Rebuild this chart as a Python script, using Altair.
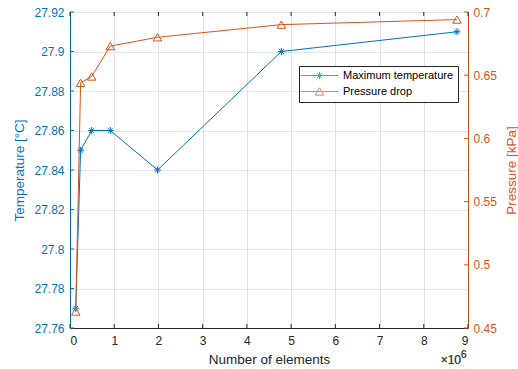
import altair as alt
import pandas as pd

# ---- data ----
elements = [130000, 240000, 490000, 910000, 1980000, 4780000, 8750000]
max_temp = [27.77, 27.85, 27.86, 27.86, 27.84, 27.90, 27.91]
pressure = [0.463, 0.644, 0.649, 0.673, 0.680, 0.690, 0.694]
series = ["Maximum temperature", "Pressure drop"]
x_ticks = [0, 1000000, 2000000, 3000000, 4000000, 5000000, 6000000, 7000000, 8000000, 9000000]
temp_ticks = [27.76, 27.78, 27.80, 27.82, 27.84, 27.86, 27.88, 27.90, 27.92]
press_ticks = [0.45, 0.50, 0.55, 0.60, 0.65, 0.70]

BLUE = "#0072BD"
ORANGE = "#D95319"
DARK = "#262626"
FONT = "Liberation Sans"
W, H = 398, 316

temp_df = pd.DataFrame({"elements": elements, "temp": max_temp})
press_df = pd.DataFrame({"elements": elements, "press": pressure})
xt_df = pd.DataFrame({"elements": x_ticks})
tt_df = pd.DataFrame({"temp": temp_ticks})
pt_df = pd.DataFrame({"press": press_ticks})
leg_df = pd.DataFrame({"series": series})

ASTER = "M-1,0L1,0M0,-1L0,1M-0.7,-0.7L0.7,0.7M-0.7,0.7L0.7,-0.7"
LEG_ASTER = "M-5.34,0L5.34,0" + ASTER
LEG_TRI = "M-5.34,0L5.34,0M0,-1.05L-1.21,1.05L1.21,1.05Z"

x_scale = alt.Scale(domain=[0, 9000000], nice=False, zero=False)
t_scale = alt.Scale(domain=[27.76, 27.92], nice=False, zero=False)
p_scale = alt.Scale(domain=[0.45, 0.70], nice=False, zero=False)

x_axis = alt.Axis(
    values=x_ticks, tickCount=20, labelExpr="format(datum.value/1000000, '~g')",
    title="Number of elements", grid=True, gridColor="#e2e2e2",
    ticks=False, domainColor=DARK, labelColor=DARK, titleColor=DARK,
    labelFontSize=12, titleFontSize=13.5, titleFontWeight="normal",
    labelPadding=7, titlePadding=6, labelFont=FONT, titleFont=FONT,
    labelOverlap=False,
)
t_axis = alt.Axis(
    orient="left", values=temp_ticks, tickCount=20, format="~g", title="Temperature [°C]",
    grid=True, gridColor="#dde8f2", ticks=False, domainColor=BLUE,
    labelColor=BLUE, titleColor=BLUE, labelFontSize=12, titleFontSize=13.5,
    titleFontWeight="normal", labelPadding=6, titlePadding=7,
    labelFont=FONT, titleFont=FONT, labelOverlap=False,
)
p_axis = alt.Axis(
    orient="right", values=press_ticks, tickCount=20, format="~g", title="Pressure [kPa]",
    grid=False, ticks=False, domainColor=ORANGE, labelColor=ORANGE,
    titleColor=ORANGE, labelFontSize=12, titleFontSize=13.5,
    titleFontWeight="normal", labelPadding=5, titlePadding=8, titleAngle=270,
    titleBaseline="top", labelFont=FONT, titleFont=FONT, labelOverlap=False,
)

x_enc = alt.X("elements:Q", scale=x_scale, axis=x_axis)

temp_line = alt.Chart(temp_df).mark_line(color=BLUE, strokeWidth=1).encode(
    x=x_enc, y=alt.Y("temp:Q", scale=t_scale, axis=t_axis)
)
temp_pts = alt.Chart(temp_df).mark_point(
    shape=ASTER, size=49, filled=False, color=BLUE, strokeWidth=1, opacity=1
).encode(x=alt.X("elements:Q", scale=x_scale), y=alt.Y("temp:Q", scale=t_scale))
temp_tk = alt.Chart(tt_df).mark_rule(color=BLUE, strokeWidth=1).encode(
    y=alt.Y("temp:Q", scale=t_scale), x=alt.value(0), x2=alt.value(4)
)

press_line = alt.Chart(press_df).mark_line(color=ORANGE, strokeWidth=1).encode(
    x=alt.X("elements:Q", scale=x_scale), y=alt.Y("press:Q", scale=p_scale, axis=p_axis)
)
press_pts = alt.Chart(press_df).mark_point(
    shape="triangle-up", size=72, filled=False, color=ORANGE, strokeWidth=1, opacity=1
).encode(x=alt.X("elements:Q", scale=x_scale), y=alt.Y("press:Q", scale=p_scale))
press_tk = alt.Chart(pt_df).mark_rule(color=ORANGE, strokeWidth=1).encode(
    y=alt.Y("press:Q", scale=p_scale), x=alt.value(W), x2=alt.value(W - 4)
)

xtick_bot = alt.Chart(xt_df).mark_rule(color=DARK, strokeWidth=1).encode(
    x=alt.X("elements:Q", scale=x_scale), y=alt.value(H), y2=alt.value(H - 4)
)
xtick_top = alt.Chart(xt_df).mark_rule(color=DARK, strokeWidth=1).encode(
    x=alt.X("elements:Q", scale=x_scale), y=alt.value(0), y2=alt.value(4)
)

leg = alt.Legend(
    orient="none", legendX=229, legendY=54, title=None, padding=4,
    strokeColor=DARK, fillColor="white", cornerRadius=0,
    labelFontSize=11, labelColor="black", labelFont=FONT,
    symbolOffset=11, labelOffset=18, rowPadding=4,
    symbolStrokeWidth=1, symbolSize=49,
)
legend_layer = alt.Chart(leg_df).mark_point(filled=False, clip=True, size=49, strokeWidth=1).encode(
    x=alt.value(-100), y=alt.value(-100),
    color=alt.Color("series:N", scale=alt.Scale(domain=series, range=[BLUE, ORANGE]), legend=leg),
    shape=alt.Shape("series:N", scale=alt.Scale(domain=series, range=[LEG_ASTER, LEG_TRI]), legend=leg),
)

exp1 = alt.Chart(leg_df).mark_text(
    text="×10", align="right", baseline="middle", fontSize=12, color="#404040", font=FONT
).encode(x=alt.value(391), y=alt.value(348))
exp2 = alt.Chart(leg_df).mark_text(
    text="6", align="left", baseline="middle", fontSize=10, color="#404040", font=FONT
).encode(x=alt.value(391), y=alt.value(343))

temp_layer = alt.layer(temp_line, temp_tk, temp_pts)
press_layer = alt.layer(press_line, press_tk, press_pts)

chart = alt.layer(
    temp_layer, press_layer, xtick_bot, xtick_top, legend_layer, exp1, exp2
).resolve_scale(y="independent").properties(
    width=W, height=H,
    autosize=alt.AutoSizeParams(type="none"),
    padding={"left": 70, "top": 12, "right": 50, "bottom": 41},
    background="white",
).configure_view(stroke=DARK, strokeWidth=1).configure(font=FONT)

chart.save("out.html", embed_options={"renderer": "svg", "actions": False})
